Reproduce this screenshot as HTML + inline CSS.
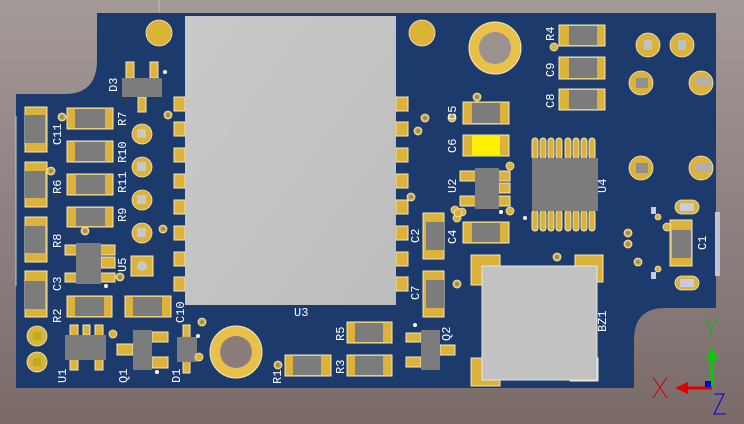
<!DOCTYPE html>
<html><head><meta charset="utf-8"><style>
html,body{margin:0;padding:0;width:744px;height:424px;overflow:hidden}
svg{display:block}
.p{fill:#dcb23a;stroke:#f3ebbd;stroke-width:1}
.b{fill:#7c7c7c}
.t{fill:#fff;font-family:"Liberation Mono",monospace;font-size:12px}
.v{fill:#dcb23a;stroke:#f3ebbd;stroke-width:.8}
.vc{fill:#8a8580}
</style></head><body>
<svg width="744" height="424" viewBox="0 0 744 424" xmlns="http://www.w3.org/2000/svg">
<defs>
<linearGradient id="bg" x1="0" y1="0" x2="0" y2="1"><stop offset="0" stop-color="#a39997"/><stop offset="1" stop-color="#7a6b69"/></linearGradient>
<linearGradient id="u3" x1="0" y1="0" x2="1" y2="1"><stop offset="0" stop-color="#c9c9c9"/><stop offset="1" stop-color="#bdbdbd"/></linearGradient>
</defs>
<rect width="744" height="424" fill="url(#bg)"/>
<line x1="159" y1="0" x2="159" y2="13" stroke="#c8c0bd" stroke-width="1"/>
<path d="M97,13 L716,13 L716,308 L665,308 Q634,308 634,340 L634,388 L16,388 L16,94 L65,94 Q97,94 97,60 Z" fill="#1c3a6c"/>
<rect x="715" y="212" width="5" height="64" fill="#c0c4d4"/>
<line x1="16" y1="116" x2="16" y2="286" stroke="#ccc" stroke-width="1"/>

<!-- U3 side pads -->
<g class="p">
<rect x="174" y="97" width="11" height="14"/><rect x="174" y="122" width="11" height="14"/><rect x="174" y="148" width="11" height="14"/><rect x="174" y="174" width="11" height="14"/><rect x="174" y="200" width="11" height="14"/><rect x="174" y="226" width="11" height="14"/><rect x="174" y="252" width="11" height="14"/><rect x="174" y="277" width="11" height="14"/>
<rect x="396" y="97" width="12" height="14"/><rect x="396" y="122" width="12" height="14"/><rect x="396" y="148" width="12" height="14"/><rect x="396" y="174" width="12" height="14"/><rect x="396" y="200" width="12" height="14"/><rect x="396" y="226" width="12" height="14"/><rect x="396" y="252" width="12" height="14"/><rect x="396" y="277" width="12" height="14"/>
</g>
<rect x="185" y="16" width="211" height="289" fill="url(#u3)"/>

<!-- left column vertical chips -->
<g class="p">
<rect x="25" y="107" width="22" height="45"/><rect x="25" y="162" width="22" height="45"/><rect x="25" y="217" width="22" height="45"/><rect x="25" y="271" width="22" height="46"/>
<rect x="67" y="108" width="46" height="21"/><rect x="67" y="141" width="46" height="21"/><rect x="67" y="174" width="46" height="21"/><rect x="67" y="207" width="46" height="20"/>
<rect x="67" y="296" width="45" height="21"/><rect x="125" y="296" width="46" height="21"/>
<rect x="126" y="62" width="8" height="16"/><rect x="150" y="62" width="8" height="16"/><rect x="138" y="97" width="8" height="15"/>
<rect x="65" y="245" width="50" height="10"/><rect x="101" y="257" width="14" height="11"/><rect x="65" y="273" width="50" height="9"/>
<rect x="70" y="325" width="8" height="45"/><rect x="83" y="325" width="7" height="10"/><rect x="95" y="325" width="8" height="45"/>
<rect x="117" y="344" width="16" height="11"/><rect x="152" y="332" width="16" height="10"/><rect x="152" y="357" width="16" height="11"/>
<rect x="183" y="325" width="7" height="48"/>
<rect x="285" y="355" width="46" height="21"/><rect x="347" y="322" width="45" height="21"/><rect x="347" y="355" width="45" height="21"/>
<rect x="406" y="333" width="15" height="9"/><rect x="406" y="357" width="15" height="10"/><rect x="440" y="345" width="15" height="10"/>
<rect x="423" y="213" width="21" height="46"/><rect x="423" y="271" width="21" height="46"/>
<rect x="463" y="102" width="46" height="22"/><rect x="463" y="135" width="46" height="21"/><rect x="463" y="222" width="46" height="21"/>
<rect x="460" y="171" width="50" height="10"/><rect x="499" y="183" width="11" height="10"/><rect x="460" y="196" width="50" height="10"/>
<rect x="559" y="25" width="46" height="21"/><rect x="559" y="57" width="46" height="22"/><rect x="559" y="89" width="46" height="21"/>
<rect x="471" y="255" width="29" height="30"/><rect x="575" y="255" width="28" height="27"/><rect x="471" y="358" width="29" height="28"/><rect x="570" y="358" width="28" height="23"/>
<rect x="670" y="220" width="22" height="46"/>
</g>
<!-- U4 pins -->
<g class="p">
<rect x="532" y="138" width="6" height="21" rx="3"/><rect x="540" y="138" width="6" height="21" rx="3"/><rect x="548" y="138" width="6" height="21" rx="3"/><rect x="556" y="138" width="6" height="21" rx="3"/><rect x="565" y="138" width="6" height="21" rx="3"/><rect x="573" y="138" width="6" height="21" rx="3"/><rect x="581" y="138" width="6" height="21" rx="3"/><rect x="589" y="138" width="6" height="21" rx="3"/>
<rect x="532" y="210" width="6" height="21" rx="3"/><rect x="540" y="210" width="6" height="21" rx="3"/><rect x="548" y="210" width="6" height="21" rx="3"/><rect x="556" y="210" width="6" height="21" rx="3"/><rect x="565" y="210" width="6" height="21" rx="3"/><rect x="573" y="210" width="6" height="21" rx="3"/><rect x="581" y="210" width="6" height="21" rx="3"/><rect x="589" y="210" width="6" height="21" rx="3"/>
</g>

<!-- bodies -->
<g class="b">
<rect x="25" y="115" width="20" height="28"/><rect x="25" y="171" width="20" height="27"/><rect x="25" y="226" width="20" height="27"/><rect x="25" y="281" width="20" height="28"/>
<rect x="75" y="109" width="30" height="19"/><rect x="75" y="142" width="30" height="19"/><rect x="76" y="175" width="29" height="19"/><rect x="76" y="208" width="29" height="18"/>
<rect x="75" y="297" width="29" height="19"/><rect x="133" y="297" width="29" height="19"/>
<rect x="122" y="78" width="40" height="19"/>
<rect x="76" y="243" width="25" height="41"/>
<rect x="65" y="335" width="41" height="25"/>
<rect x="133" y="330" width="19" height="40"/>
<rect x="177" y="337" width="20" height="25"/>
<rect x="293" y="356" width="28" height="19"/><rect x="355" y="323" width="28" height="19"/><rect x="355" y="356" width="28" height="19"/>
<rect x="421" y="330" width="19" height="40"/>
<rect x="426" y="222" width="18" height="28"/><rect x="426" y="280" width="18" height="28"/>
<rect x="472" y="103" width="28" height="20"/><rect x="472" y="223" width="28" height="19"/>
<rect x="475" y="168" width="24" height="41"/>
<rect x="532" y="158" width="66" height="53"/>
<rect x="569" y="26" width="28" height="19"/><rect x="569" y="58" width="28" height="20"/><rect x="569" y="90" width="28" height="19"/>
<rect x="672" y="230" width="19" height="28"/>
</g>
<rect x="472" y="135" width="28" height="20" fill="#fff000"/>
<rect x="482" y="266" width="115" height="114" fill="#c2c2c2" stroke="#e6e6e6"/>

<!-- holes -->
<g>
<circle cx="159" cy="33" r="13" class="v"/><circle cx="158" cy="32" r="3.5" fill="#c8c020"/>
<circle cx="422" cy="33" r="13" class="v"/><circle cx="421" cy="32" r="3.5" fill="#c8c020"/>
<circle cx="495" cy="48" r="26" fill="#e8c04a" stroke="#f3ebbd"/><circle cx="495" cy="48" r="16" fill="#9c9290"/>
<circle cx="236" cy="352" r="26" fill="#e8c04a" stroke="#f3ebbd"/><circle cx="236" cy="352" r="16" fill="#8a7c7a"/>
<circle cx="37" cy="336" r="10" class="v"/><rect x="33" y="332" width="8" height="8" fill="#b8b020"/>
<circle cx="37" cy="362" r="10" class="v"/><rect x="33" y="358" width="8" height="8" fill="#b8b020"/>
<circle cx="142" cy="134" r="10" class="v"/><rect x="137" y="129" width="9" height="9" fill="#c8c8c8"/>
<circle cx="142" cy="167" r="10" class="v"/><rect x="137" y="162" width="9" height="9" fill="#c8c8c8"/>
<circle cx="142" cy="200" r="10" class="v"/><rect x="137" y="195" width="9" height="9" fill="#c8c8c8"/>
<circle cx="142" cy="233" r="10" class="v"/><rect x="137" y="228" width="9" height="9" fill="#c8c8c8"/>
<rect x="131" y="256" width="22" height="20" class="p"/><circle cx="142" cy="266" r="5" fill="#c8c8c8"/>
<circle cx="648" cy="45" r="12" class="v"/><rect x="644" y="40" width="8" height="10" fill="#c0c0c0"/>
<circle cx="682" cy="45" r="12" class="v"/><rect x="678" y="40" width="8" height="10" fill="#c0c0c0"/>
<circle cx="641" cy="83" r="12" class="v"/><rect x="636" y="78" width="12" height="10" fill="#909090"/>
<circle cx="701" cy="83" r="12" class="v"/><rect x="696" y="78" width="15" height="8" fill="#b0b0b0"/>
<circle cx="641" cy="168" r="12" class="v"/><rect x="636" y="163" width="12" height="10" fill="#909090"/>
<circle cx="701" cy="168" r="12" class="v"/><rect x="696" y="163" width="15" height="8" fill="#b0b0b0"/>
<rect x="675" y="200" width="24" height="14" rx="7" class="v"/><rect x="680" y="203" width="14" height="8" fill="#c8cce0"/>
<rect x="675" y="276" width="24" height="14" rx="7" class="v"/><rect x="680" y="279" width="14" height="8" fill="#c8cce0"/>
</g>
<!-- vias -->
<g>
<g class="v">
<circle cx="62" cy="117" r="4"/><circle cx="51" cy="171" r="4"/><circle cx="85" cy="231" r="4"/><circle cx="120" cy="277" r="4"/><circle cx="168" cy="115" r="4"/><circle cx="163" cy="229" r="4"/><circle cx="113" cy="334" r="4"/><circle cx="202" cy="322" r="4"/><circle cx="199" cy="357" r="4"/><circle cx="278" cy="365" r="4"/>
<circle cx="425" cy="118" r="4"/><circle cx="418" cy="131" r="4"/><circle cx="477" cy="97" r="4"/><circle cx="411" cy="197" r="4"/><circle cx="452" cy="118" r="4"/><circle cx="455" cy="210" r="4"/><circle cx="462" cy="212" r="4"/><circle cx="510" cy="166" r="4"/><circle cx="510" cy="211" r="4"/><circle cx="457" cy="218" r="4"/><circle cx="458" cy="213" r="4"/><circle cx="557" cy="257" r="4"/><circle cx="457" cy="284" r="4"/><circle cx="554" cy="47" r="4"/>
<circle cx="628" cy="233" r="4"/><circle cx="628" cy="244" r="4"/><circle cx="638" cy="262" r="4"/><circle cx="667" cy="227" r="4"/><circle cx="658" cy="217" r="3"/><circle cx="658" cy="269" r="3"/>
</g>
<g class="vc">
<circle cx="62" cy="117" r="1.8"/><circle cx="51" cy="171" r="1.8"/><circle cx="85" cy="231" r="1.8"/><circle cx="120" cy="277" r="1.8"/><circle cx="168" cy="115" r="1.8"/><circle cx="163" cy="229" r="1.8"/><circle cx="202" cy="322" r="1.8"/><circle cx="278" cy="365" r="1.8"/><circle cx="425" cy="118" r="1.8"/><circle cx="418" cy="131" r="1.8"/><circle cx="477" cy="97" r="1.8"/><circle cx="411" cy="197" r="1.8"/><circle cx="452" cy="118" r="1.8"/><circle cx="557" cy="257" r="1.8"/><circle cx="457" cy="284" r="1.8"/><circle cx="628" cy="233" r="1.8"/><circle cx="628" cy="244" r="1.8"/><circle cx="638" cy="262" r="1.8"/>
</g>
<rect x="651" y="207" width="5" height="7" fill="#c8cce0"/><rect x="651" y="272" width="5" height="7" fill="#c8cce0"/>
<g fill="#fff"><circle cx="165" cy="72" r="2"/><circle cx="106" cy="286" r="2"/><circle cx="157" cy="372" r="2"/><circle cx="198" cy="336" r="2"/><circle cx="415" cy="325" r="2"/><circle cx="525" cy="218" r="2"/><circle cx="501" cy="212" r="2"/></g>
</g>

<!-- labels -->
<g class="t">
<text transform="translate(61,145) rotate(-90)">C11</text>
<text transform="translate(61,194) rotate(-90)">R6</text>
<text transform="translate(61,248) rotate(-90)">R8</text>
<text transform="translate(61,291) rotate(-90)">C3</text>
<text transform="translate(61,323) rotate(-90)">R2</text>
<text transform="translate(126,126) rotate(-90)">R7</text>
<text transform="translate(126,163) rotate(-90)">R10</text>
<text transform="translate(126,193) rotate(-90)">R11</text>
<text transform="translate(126,222) rotate(-90)">R9</text>
<text transform="translate(117,92) rotate(-90)">D3</text>
<text transform="translate(126,272) rotate(-90)">U5</text>
<text transform="translate(184,323) rotate(-90)">C10</text>
<text transform="translate(66,383) rotate(-90)">U1</text>
<text transform="translate(127,383) rotate(-90)">Q1</text>
<text transform="translate(180,383) rotate(-90)">D1</text>
<text transform="translate(281,384) rotate(-90)">R1</text>
<text transform="translate(344,341) rotate(-90)">R5</text>
<text transform="translate(344,374) rotate(-90)">R3</text>
<text x="294" y="316">U3</text>
<text transform="translate(456,120) rotate(-90)">C5</text>
<text transform="translate(456,153) rotate(-90)">C6</text>
<text transform="translate(456,193) rotate(-90)">U2</text>
<text transform="translate(419,243) rotate(-90)">C2</text>
<text transform="translate(456,244) rotate(-90)">C4</text>
<text transform="translate(419,300) rotate(-90)">C7</text>
<text transform="translate(450,341) rotate(-90)">Q2</text>
<text transform="translate(606,332) rotate(-90)">BZ1</text>
<text transform="translate(554,41) rotate(-90)">R4</text>
<text transform="translate(554,77) rotate(-90)">C9</text>
<text transform="translate(554,108) rotate(-90)">C8</text>
<text transform="translate(606,193) rotate(-90)">U4</text>
<text transform="translate(706,250) rotate(-90)">C1</text>
</g>

<!-- axes -->
<line x1="712" y1="388" x2="712" y2="356" stroke="#00d000" stroke-width="3"/>
<polygon points="706,360 718,360 712,347" fill="#00d000"/>
<line x1="712" y1="388" x2="684" y2="388" stroke="#e00000" stroke-width="3"/>
<polygon points="688,382 688,394 675,388" fill="#e00000"/>
<rect x="705" y="381" width="6" height="6" fill="#0000e0"/>
<path d="M653,377 L667,398 M667,377 L653,398" stroke="#d00000" stroke-width="1" fill="none"/>
<path d="M705,318 L711,330 L718,318 M711,330 L711,338" stroke="#00c000" stroke-width="1" fill="none"/>
<path d="M714,394 L724,394 L714,414 L726,414" stroke="#0000e0" stroke-width="1" fill="none"/>
</svg>
</body></html>
